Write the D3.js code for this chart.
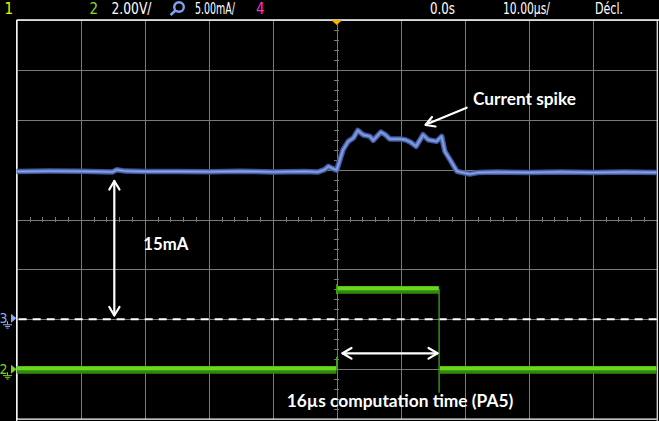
<!DOCTYPE html>
<html><head><meta charset="utf-8">
<script src="https://cdn.jsdelivr.net/npm/d3@7"></script>
<style>html,body{margin:0;padding:0;background:#000;overflow:hidden}</style>
</head><body><svg id="c" width="659" height="421"></svg>
<script>
// ---- data ----
// Channel 3 (current, mA) vs time (µs)
const blueT  = [-50,-45,-40,-35,-34.4,-33,-30,-25,-20,-15,-10,-5,-3,-1.9,-1.3,-0.6,0,1,1.8,2.6,3.3,4.1,5.2,5.7,6.9,7.6,8.3,9.9,10.7,11.5,12.4,13.5,14.3,15.6,16.4,16.9,17.7,18.8,20.8,22,25,30,35,40,45,50];
const blueMA = [14.8,14.85,14.83,14.77,14.98,14.85,14.8,14.82,14.78,14.84,14.77,14.82,14.75,15.0,15.33,15.1,14.95,17.0,17.83,18.17,18.93,18.5,18.33,17.93,18.77,18.5,18.07,18.07,18.0,17.77,17.33,18.5,18.0,17.83,18.33,16.83,16.0,14.83,14.55,14.7,14.75,14.72,14.77,14.7,14.76,14.72];
// Channel 2 (PA5, V): constant levels and edges
const greenLevelT0 = [-50, 0, 16];
const greenLevelT1 = [0, 16, 50];
const greenLevelV  = [0, 3.21, 0];
const greenEdgeT    = [0, 0, 16];
const greenEdgeFrom = [-0.05, 3.0, 3.21];
const greenEdgeTo   = [0.5, 3.4, -0.95];
// grid / header
const timeDivs = [-50,-40,-30,-20,-10,0,10,20,30,40,50];
const vertDivs = [-4,-3,-2,-1,0,1,2,3,4];
const minorTimeTicks = d3.range(-50, 50.01, 2);
const minorDivTicks = d3.range(-4, 4.01, 0.2);

const svg = d3.select("#c");
svg.append("rect").attr("width",659).attr("height",421).attr("fill","#000");

const L = 16.7, R = 656.7, T = 20, B = 419;
const x = d3.scaleLinear().domain([-50,50]).range([L,R]);
const yDiv = d3.scaleLinear().domain([-4,4]).range([B,T]);
const yBlue = d3.scaleLinear().domain([-10,30]).range([B,T]);   // 5 mA/div, 0 at dashed ref
const yGreen = d3.scaleLinear().domain([-2,14]).range([B,T]);   // 2 V/div

const gridCol = "#7a7a7a";
const gv = svg.append("g").attr("transform",`translate(0,${B})`)
  .call(d3.axisTop(x).tickValues(timeDivs).tickSize(B-T).tickFormat(""));
gv.select(".domain").remove();
gv.selectAll("line").attr("stroke",gridCol).attr("stroke-width",1).attr("shape-rendering","crispEdges");
const gh = svg.append("g").attr("transform",`translate(${L},0)`)
  .call(d3.axisRight(yDiv).tickValues(vertDivs).tickSize(R-L).tickFormat(""));
gh.select(".domain").remove();
gh.selectAll("line").attr("stroke",gridCol).attr("stroke-width",1).attr("shape-rendering","crispEdges");
const mx = svg.append("g").attr("transform",`translate(0,${yDiv(0)-2.5})`)
  .call(d3.axisBottom(x).tickValues(minorTimeTicks).tickSize(5).tickFormat(""));
mx.select(".domain").remove();
mx.selectAll("line").attr("stroke",gridCol).attr("shape-rendering","crispEdges");
const my = svg.append("g").attr("transform",`translate(${x(0)-2.5},0)`)
  .call(d3.axisRight(yDiv).tickValues(minorDivTicks).tickSize(5).tickFormat(""));
my.select(".domain").remove();
my.selectAll("line").attr("stroke",gridCol).attr("shape-rendering","crispEdges");

// borders
svg.append("line").attr("x1",L).attr("x2",L).attr("y1",T).attr("y2",421).attr("stroke","#fff").attr("stroke-width",1.3);
svg.append("line").attr("x1",L).attr("x2",659).attr("y1",T).attr("y2",T).attr("stroke","#fff").attr("stroke-width",1.3);
svg.append("line").attr("x1",R+0.5).attr("x2",R+0.5).attr("y1",T).attr("y2",421).attr("stroke","#fff").attr("stroke-width",1);
svg.append("line").attr("x1",L).attr("x2",R).attr("y1",B).attr("y2",B).attr("stroke","#fff").attr("stroke-width",1);

// dashed reference line for channel 3 (0 mA)
svg.append("line").attr("x1",L).attr("x2",R).attr("y1",yBlue(0)).attr("y2",yBlue(0))
  .attr("stroke","#fff").attr("stroke-width",2).attr("stroke-dasharray","8,6").attr("stroke-dashoffset",-2);

// green trace
const gGreen = svg.append("g");
greenLevelV.forEach((v,i)=>{
  const x0 = x(greenLevelT0[i]) + (i>0?0.8:0), x1 = x(greenLevelT1[i]) - 0.3;
  gGreen.append("line").attr("x1",x0).attr("x2",x1).attr("y1",yGreen(v)+0.8).attr("y2",yGreen(v)+0.8)
    .attr("stroke","#2f8a0c").attr("stroke-width",7.5);
  gGreen.append("line").attr("x1",x0).attr("x2",x1).attr("y1",yGreen(v)-0.8).attr("y2",yGreen(v)-0.8)
    .attr("stroke","#6cd61e").attr("stroke-width",4);
});
greenEdgeT.forEach((t,i)=>{
  gGreen.append("line").attr("x1",x(t)).attr("x2",x(t)).attr("y1",yGreen(greenEdgeFrom[i])).attr("y2",yGreen(greenEdgeTo[i]))
    .attr("stroke","#3fa414").attr("stroke-width",1.3);
});

// blue trace
const blueData = blueT.map((t,i)=>[t,blueMA[i]]);
const line = d3.line().x(d=>x(d[0])).y(d=>yBlue(d[1]));
svg.append("path").datum(blueData).attr("d",line).attr("fill","none").attr("stroke","#3f5596").attr("stroke-width",5.5).attr("stroke-linejoin","round");
svg.append("path").datum(blueData).attr("d",line).attr("fill","none").attr("stroke","#6a86d2").attr("stroke-width",3).attr("stroke-linejoin","round");
svg.append("path").datum(blueData).attr("d",line).attr("fill","none").attr("stroke","#8ba6ea").attr("stroke-width",1).attr("stroke-linejoin","round");

// left channel markers
function marker(label, col, yy){
  const g = svg.append("g");
  g.append("text").attr("x",-0.5).attr("y",yy+5).attr("fill",col).attr("font-family","DejaVu Sans Condensed, DejaVu Sans").attr("font-size",14).text(label);
  g.append("path").attr("d",`M11,${yy-4.5} L16.5,${yy} L11,${yy+4.5} Z`).attr("fill",col);
  g.append("line").attr("x1",7.5).attr("x2",7.5).attr("y1",yy+3).attr("y2",yy+6.5).attr("stroke",col).attr("stroke-width",1);
  [[3,12,6.5],[5,10,8.2],[6.3,8.7,9.9]].forEach(s=>g.append("line").attr("x1",s[0]).attr("x2",s[1]).attr("y1",yy+s[2]).attr("y2",yy+s[2]).attr("stroke",col).attr("stroke-width",1));
}
marker("3","#8aa8f0",yBlue(0)-1);
marker("2","#7ed321",yGreen(0));

// header
const hf = "DejaVu Sans Condensed, DejaVu Sans";
function ht(tx,xx,col,len){ const t = svg.append("text").attr("x",xx).attr("y",14).attr("fill",col).attr("font-family",hf).attr("font-size",15).text(tx);
  if(len) t.attr("textLength",len).attr("lengthAdjust","spacingAndGlyphs"); return t; }
ht("1",4.5,"#f2f200");
ht("2",89.5,"#8fd83a");
ht("2.00V/",111.5,"#ffffff",40);
svg.append("circle").attr("cx",179).attr("cy",7).attr("r",4.8).attr("fill","none").attr("stroke","#7fa2f0").attr("stroke-width",2.4);
svg.append("line").attr("x1",175.5).attr("y1",10.5).attr("x2",170.5).attr("y2",15).attr("stroke","#7fa2f0").attr("stroke-width",2.6);
ht("5.00mA/",195,"#ffffff",40);
ht("4",256,"#ff2fc8");
ht("0.0s",430,"#ffffff",25);
ht("10.00µs/",503,"#ffffff",47);
ht("Décl.",595,"#ffffff",28);
svg.append("path").attr("d",`M${x(0)-5.5},${T} L${x(0)+5.5},${T} L${x(0)},${T+5} Z`).attr("fill","#f5b400");

// annotations
const af = "Lato, Open Sans, sans-serif";
function at(tx,xx,yy,len){ svg.append("text").attr("x",xx).attr("y",yy).attr("fill","#fff").attr("font-family",af).attr("font-weight","bold").attr("font-size",16.5)
  .attr("textLength",len).attr("lengthAdjust","spacingAndGlyphs").text(tx); }
at("Current spike",473,105,103);
at("15mA",143.3,250,45);
at("16µs computation time (PA5)",286.7,406.7,226.6);

const ag = svg.append("g").attr("stroke","#fff").attr("stroke-width",2.2).attr("fill","none").attr("stroke-linecap","round").attr("stroke-linejoin","round");
ag.append("line").attr("x1",466.7).attr("y1",107.7).attr("x2",426).attr("y2",124.5);
ag.append("path").attr("d","M432,117 L425.5,125 L435.5,126.5");
ag.append("line").attr("x1",114.3).attr("y1",181).attr("x2",114.3).attr("y2",315);
ag.append("path").attr("d","M109.3,189.5 L114.3,181 L119.5,189.5");
ag.append("path").attr("d","M109.3,307 L114.3,315.5 L119.5,307");
ag.append("line").attr("x1",342.5).attr("y1",353.3).attr("x2",437.5).attr("y2",353.3);
ag.append("path").attr("d","M351.5,348 L342.5,353.3 L351.5,358.6");
ag.append("path").attr("d","M428.5,348 L437.5,353.3 L428.5,358.6");
</script></body></html>
